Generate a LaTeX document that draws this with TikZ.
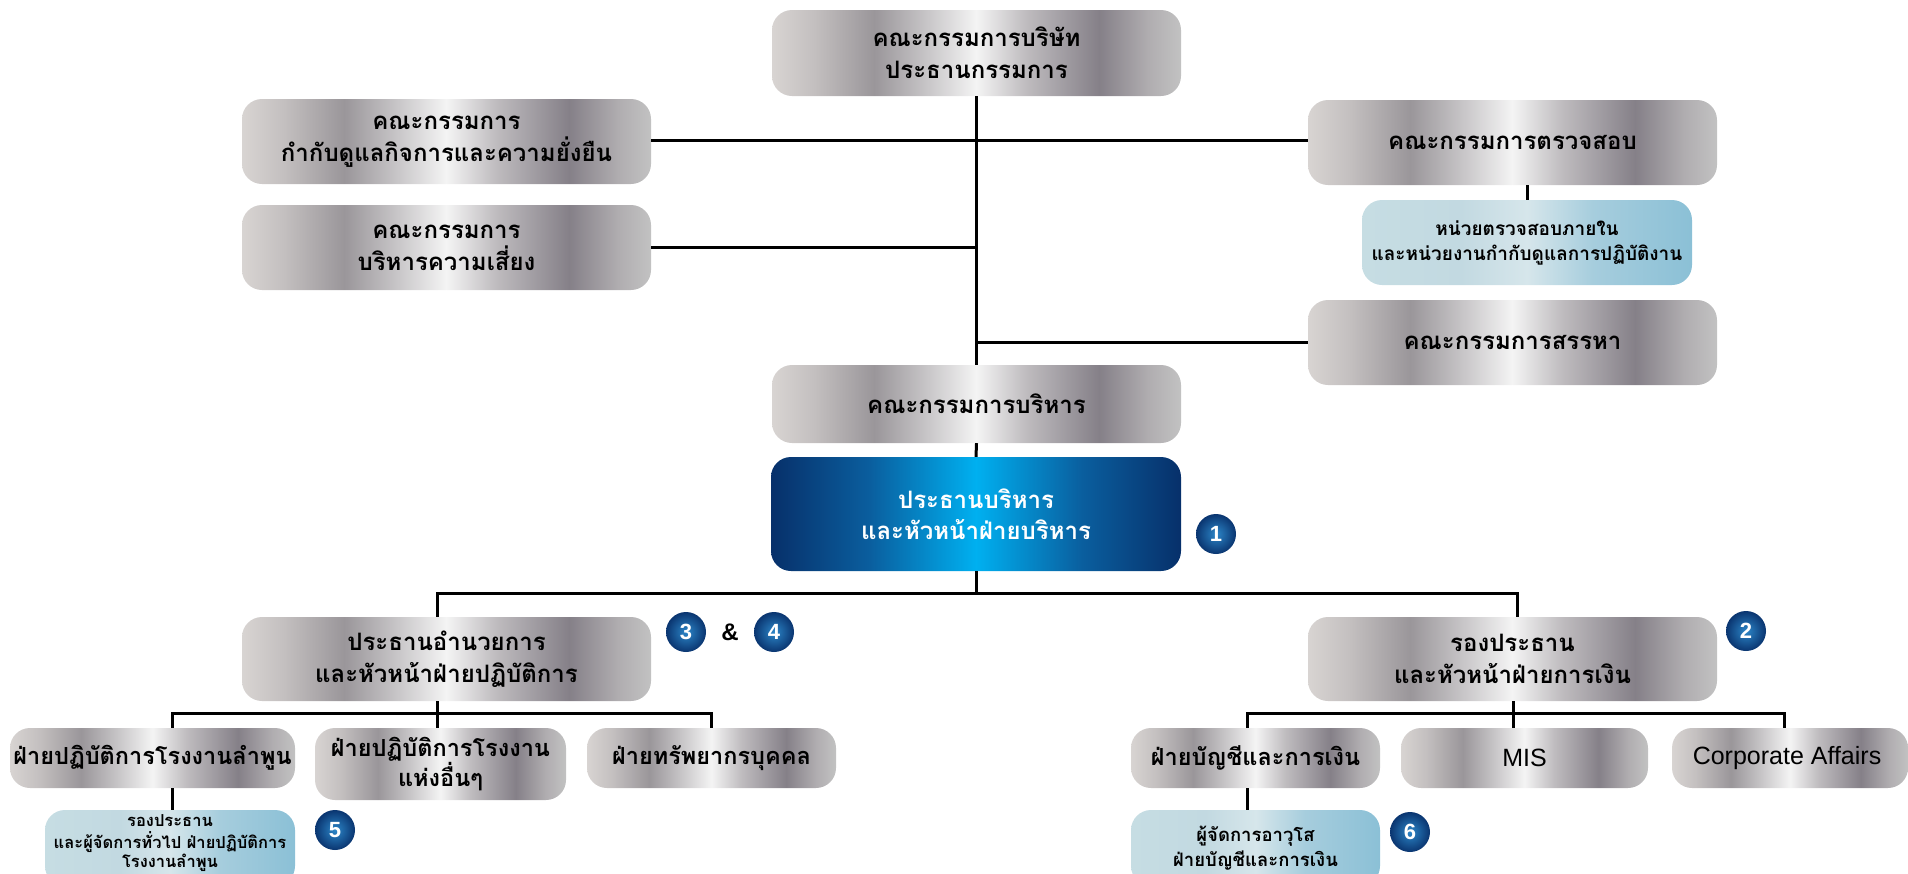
\documentclass[tikz,border=0pt]{standalone}
\usepackage{fontspec}
\newfontfamily\thai[Script=Thai]{Loma}
\newfontfamily\lat{Liberation Sans}
\definecolor{sva}{HTML}{D8D4D2}
\definecolor{svb}{HTML}{C4C0C0}
\definecolor{svc}{HTML}{9A969A}
\definecolor{svd}{HTML}{C8C6C8}
\definecolor{sve}{HTML}{F4F4F4}
\definecolor{svf}{HTML}{BFBCBF}
\definecolor{svg}{HTML}{858088}
\definecolor{svh}{HTML}{B0ADB0}
\definecolor{svi}{HTML}{C2C2C2}
\definecolor{bla}{HTML}{07306A}
\definecolor{blb}{HTML}{0A5E9E}
\definecolor{blc}{HTML}{00B0F0}
\definecolor{lba}{HTML}{C6DDE3}
\definecolor{lbb}{HTML}{C2D9E1}
\definecolor{lbc}{HTML}{D6E6EB}
\definecolor{lbd}{HTML}{A6CDDD}
\definecolor{lbe}{HTML}{8BC0D6}
\definecolor{bdin}{HTML}{2C86C8}
\definecolor{bdout}{HTML}{0A3570}
\pgfdeclarehorizontalshading{silver}{100bp}{color(0bp)=(sva); color(25bp)=(sva); color(30bp)=(svb); color(37.5bp)=(svc); color(44bp)=(svd); color(50bp)=(sve); color(56bp)=(svf); color(65bp)=(svg); color(71bp)=(svh); color(75bp)=(svi); color(100bp)=(svi)}
\pgfdeclarehorizontalshading{bluegrad}{100bp}{color(0bp)=(bla); color(25bp)=(bla); color(37bp)=(blb); color(50bp)=(blc); color(63bp)=(blb); color(75bp)=(bla); color(100bp)=(bla)}
\pgfdeclarehorizontalshading{lightblue}{100bp}{color(0bp)=(lba); color(25bp)=(lba); color(40bp)=(lbb); color(50bp)=(lbc); color(60bp)=(lbd); color(75bp)=(lbe); color(100bp)=(lbe)}
\tikzset{
  box/.style={rounded corners=20pt, inner sep=0pt, align=center, text=black},
  silverbox/.style={box, shading=silver, font=\thai\bfseries\fontsize{24}{32}\selectfont},
  rowbox/.style={box, shading=silver, font=\thai\bfseries\fontsize{23.5}{30}\selectfont},
  latbox/.style={box, shading=silver, font=\lat\fontsize{25}{28}\selectfont},
  bluebox/.style={box, shading=bluegrad, text=white, font=\thai\bfseries\fontsize{24}{31}\selectfont},
  lbox/.style={box, shading=lightblue, font=\thai\bfseries\fontsize{19}{25}\selectfont},
  badge/.style={circle, minimum size=40pt, inner sep=0pt, inner color=bdin, outer color=bdout, text=white, font=\lat\bfseries\fontsize{22}{24}\selectfont},
  conn/.style={line width=3pt, black},
}
\begin{document}
\begin{tikzpicture}[x=1pt,y=-1pt]
\useasboundingbox (0,0) rectangle (1908,873);
\clip (0,0) rectangle (1908,873);
% nodes
\node[silverbox, minimum width=409pt, minimum height=86pt] (board) at (976.5,53) {คณะกรรมการบริษัท\\ประธานกรรมการ};
\node[silverbox, minimum width=409pt, minimum height=85pt] (cg) at (446.5,141.5) {คณะกรรมการ\\กำกับดูแลกิจการและความยั่งยืน};
\node[silverbox, minimum width=409pt, minimum height=85pt] (risk) at (446.5,247.5) {คณะกรรมการ\\บริหารความเสี่ยง};
\node[silverbox, minimum width=409pt, minimum height=85pt] (audit) at (1512.5,142.5) {คณะกรรมการตรวจสอบ};
\node[lbox, minimum width=330pt, minimum height=85pt] (ia) at (1527,242.5) {หน่วยตรวจสอบภายใน\\และหน่วยงานกำกับดูแลการปฏิบัติงาน};
\node[silverbox, minimum width=409pt, minimum height=85pt] (nom) at (1512.5,342.5) {คณะกรรมการสรรหา};
\node[silverbox, minimum width=409pt, minimum height=78pt] (exec) at (976.5,404) {คณะกรรมการบริหาร};
\node[bluebox, minimum width=410pt, minimum height=114pt] (ceo) at (976,514) {ประธานบริหาร\\และหัวหน้าฝ่ายบริหาร};
\node[silverbox, minimum width=409pt, minimum height=84pt] (coo) at (446.5,659) {ประธานอำนวยการ\\และหัวหน้าฝ่ายปฏิบัติการ};
\node[silverbox, minimum width=409pt, minimum height=84pt] (cfo) at (1512.5,659) {รองประธาน\\และหัวหน้าฝ่ายการเงิน};
\node[rowbox, minimum width=285pt, minimum height=60pt] (lp) at (152.5,758) {ฝ่ายปฏิบัติการโรงงานลำพูน};
\node[rowbox, minimum width=251pt, minimum height=72pt] (other) at (440.5,764) {ฝ่ายปฏิบัติการโรงงาน\\แห่งอื่นๆ};
\node[rowbox, minimum width=249pt, minimum height=60pt] (hr) at (711.5,758) {ฝ่ายทรัพยากรบุคคล};
\node[rowbox, minimum width=249pt, minimum height=60pt] (acc) at (1255.5,758) {ฝ่ายบัญชีและการเงิน};
\node[latbox, minimum width=247pt, minimum height=60pt] (mis) at (1524.5,758) {MIS};
\node[latbox, minimum width=236pt, minimum height=60pt] (corp) at (1790,758) {\hspace*{-6pt}Corporate Affairs};
\node[lbox, minimum width=250pt, minimum height=76pt, font=\thai\bfseries\fontsize{16.5}{16.5}\selectfont] (vp) at (170,848) {\raisebox{0pt}[\height][\dimexpr\depth+9pt\relax]{\begin{tabular}{@{}c@{}}รองประธาน\\และผู้จัดการทั่วไป ฝ่ายปฏิบัติการ\\โรงงานลำพูน\end{tabular}}};
\node[lbox, minimum width=249pt, minimum height=76pt, font=\thai\bfseries\fontsize{18.5}{25}\selectfont] (sva) at (1255.5,848) {ผู้จัดการอาวุโส\\ฝ่ายบัญชีและการเงิน};
% badges
\node[badge] (b1) at (1216,534) {1};
\node[badge] (b2) at (1746,631) {2};
\node[badge] (b3) at (686,632) {3};
\node[font=\lat\bfseries\fontsize{24}{26}\selectfont] (amp) at (730,632) {\&};
\node[badge] (b4) at (774,632) {4};
\node[badge] (b5) at (335,830) {5};
\node[badge] (b6) at (1410,832) {6};
% coordinates
\coordinate (t1) at (976,140);
\coordinate (busL) at (437,593);
\coordinate (busR) at (1517,593);
\coordinate (busC) at (976,593);
\coordinate (subL) at (437,713);
\coordinate (lpx) at (172,713);
\coordinate (hrx) at (711,713);
\coordinate (subR) at (1513,713);
\coordinate (accx) at (1247,713);
\coordinate (corpx) at (1784,713);
% connectors
\draw[conn] (board.south) -- (exec.north);
\draw[conn] (exec.south) -- (ceo.north);
\draw[conn] (cg.east |- t1) -- (audit.west |- t1);
\draw[conn] (risk.east) -- (risk.east -| board.south);
\draw[conn] (nom.west) -- (nom.west -| board.south);
\draw[conn] (ia.north |- audit.south) -- (ia.north);
\draw[conn] (ceo.south) -- (busC);
\draw[conn] (busL |- coo.north) -- (busL) -- (busR) -- (busR |- cfo.north);
\draw[conn] (subL |- coo.south) -- (subL |- other.north);
\draw[conn] (lpx |- lp.north) -- (lpx) -- (hrx) -- (hrx |- hr.north);
\draw[conn] (lpx |- lp.south) -- (lpx |- vp.north);
\draw[conn] (subR |- cfo.south) -- (subR |- mis.north);
\draw[conn] (accx |- acc.north) -- (accx) -- (corpx) -- (corpx |- corp.north);
\draw[conn] (accx |- acc.south) -- (accx |- sva.north);
\end{tikzpicture}
\end{document}
